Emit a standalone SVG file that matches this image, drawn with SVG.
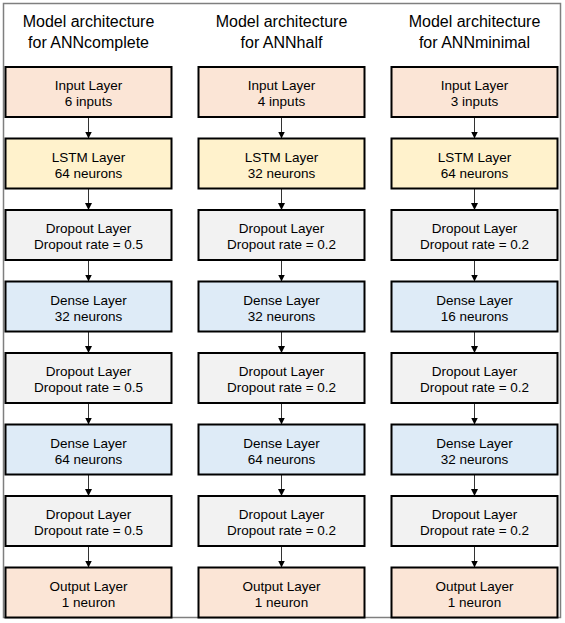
<svg xmlns="http://www.w3.org/2000/svg" width="565" height="623" viewBox="0 0 565 623">
<defs>
<style>
.frame{fill:#ffffff;stroke:#7f7f7f;stroke-width:1.5}
.hd{font-family:"Liberation Sans",Arial,sans-serif;font-size:16px;fill:#000;text-anchor:middle}
.bx{stroke:#000;stroke-width:2}
.io{fill:#fbe5d6}
.lstm{fill:#fff2cc}
.drop{fill:#f2f2f2}
.dense{fill:#deebf7}
.t{font-family:"Liberation Sans",Arial,sans-serif;font-size:13.5px;fill:#000;text-anchor:middle}
.ar{stroke:#333;stroke-width:1;fill:none;marker-end:url(#ah)}
</style>
<marker id="ah" viewBox="0 0 8 8" refX="8" refY="4" markerWidth="7" markerHeight="7" markerUnits="userSpaceOnUse" orient="auto">
<path d="M0,0 L8,4 L0,8 Z" fill="#000"/>
</marker>
</defs>
<rect class="frame" x="3.5" y="3.5" width="557" height="614"/>
<g id="headers">
<text class="hd" x="88.5" y="27">Model architecture</text>
<text class="hd" x="88.5" y="48">for ANNcomplete</text>
<text class="hd" x="281.5" y="27">Model architecture</text>
<text class="hd" x="281.5" y="48">for ANNhalf</text>
<text class="hd" x="474.5" y="27">Model architecture</text>
<text class="hd" x="474.5" y="48">for ANNminimal</text>
</g>
<g id="connectors">
<line class="ar" x1="88.5" y1="117" x2="88.5" y2="138.5"/>
<line class="ar" x1="88.5" y1="188.5" x2="88.5" y2="210"/>
<line class="ar" x1="88.5" y1="260" x2="88.5" y2="281.5"/>
<line class="ar" x1="88.5" y1="331.5" x2="88.5" y2="353"/>
<line class="ar" x1="88.5" y1="403" x2="88.5" y2="424.5"/>
<line class="ar" x1="88.5" y1="474.5" x2="88.5" y2="496"/>
<line class="ar" x1="88.5" y1="546" x2="88.5" y2="567.5"/>
<line class="ar" x1="281.5" y1="117" x2="281.5" y2="138.5"/>
<line class="ar" x1="281.5" y1="188.5" x2="281.5" y2="210"/>
<line class="ar" x1="281.5" y1="260" x2="281.5" y2="281.5"/>
<line class="ar" x1="281.5" y1="331.5" x2="281.5" y2="353"/>
<line class="ar" x1="281.5" y1="403" x2="281.5" y2="424.5"/>
<line class="ar" x1="281.5" y1="474.5" x2="281.5" y2="496"/>
<line class="ar" x1="281.5" y1="546" x2="281.5" y2="567.5"/>
<line class="ar" x1="474.5" y1="117" x2="474.5" y2="138.5"/>
<line class="ar" x1="474.5" y1="188.5" x2="474.5" y2="210"/>
<line class="ar" x1="474.5" y1="260" x2="474.5" y2="281.5"/>
<line class="ar" x1="474.5" y1="331.5" x2="474.5" y2="353"/>
<line class="ar" x1="474.5" y1="403" x2="474.5" y2="424.5"/>
<line class="ar" x1="474.5" y1="474.5" x2="474.5" y2="496"/>
<line class="ar" x1="474.5" y1="546" x2="474.5" y2="567.5"/>
</g>
<!-- Column 1 -->
<g id="c1-input"><rect class="bx io" x="5.5" y="67" width="166" height="50"/><text class="t" x="88.5" y="90">Input Layer</text><text class="t" x="88.5" y="106">6 inputs</text></g>
<g id="c1-lstm"><rect class="bx lstm" x="5.5" y="138.5" width="166" height="50"/><text class="t" x="88.5" y="161.5">LSTM Layer</text><text class="t" x="88.5" y="177.5">64 neurons</text></g>
<g id="c1-drop1"><rect class="bx drop" x="5.5" y="210" width="166" height="50"/><text class="t" x="88.5" y="233">Dropout Layer</text><text class="t" x="88.5" y="249">Dropout rate = 0.5</text></g>
<g id="c1-dense1"><rect class="bx dense" x="5.5" y="281.5" width="166" height="50"/><text class="t" x="88.5" y="304.5">Dense Layer</text><text class="t" x="88.5" y="320.5">32 neurons</text></g>
<g id="c1-drop2"><rect class="bx drop" x="5.5" y="353" width="166" height="50"/><text class="t" x="88.5" y="376">Dropout Layer</text><text class="t" x="88.5" y="392">Dropout rate = 0.5</text></g>
<g id="c1-dense2"><rect class="bx dense" x="5.5" y="424.5" width="166" height="50"/><text class="t" x="88.5" y="447.5">Dense Layer</text><text class="t" x="88.5" y="463.5">64 neurons</text></g>
<g id="c1-drop3"><rect class="bx drop" x="5.5" y="496" width="166" height="50"/><text class="t" x="88.5" y="519">Dropout Layer</text><text class="t" x="88.5" y="535">Dropout rate = 0.5</text></g>
<g id="c1-output"><rect class="bx io" x="5.5" y="567.5" width="166" height="50"/><text class="t" x="88.5" y="590.5">Output Layer</text><text class="t" x="88.5" y="606.5">1 neuron</text></g>
<!-- Column 2 -->
<g id="c2-input"><rect class="bx io" x="198.5" y="67" width="166" height="50"/><text class="t" x="281.5" y="90">Input Layer</text><text class="t" x="281.5" y="106">4 inputs</text></g>
<g id="c2-lstm"><rect class="bx lstm" x="198.5" y="138.5" width="166" height="50"/><text class="t" x="281.5" y="161.5">LSTM Layer</text><text class="t" x="281.5" y="177.5">32 neurons</text></g>
<g id="c2-drop1"><rect class="bx drop" x="198.5" y="210" width="166" height="50"/><text class="t" x="281.5" y="233">Dropout Layer</text><text class="t" x="281.5" y="249">Dropout rate = 0.2</text></g>
<g id="c2-dense1"><rect class="bx dense" x="198.5" y="281.5" width="166" height="50"/><text class="t" x="281.5" y="304.5">Dense Layer</text><text class="t" x="281.5" y="320.5">32 neurons</text></g>
<g id="c2-drop2"><rect class="bx drop" x="198.5" y="353" width="166" height="50"/><text class="t" x="281.5" y="376">Dropout Layer</text><text class="t" x="281.5" y="392">Dropout rate = 0.2</text></g>
<g id="c2-dense2"><rect class="bx dense" x="198.5" y="424.5" width="166" height="50"/><text class="t" x="281.5" y="447.5">Dense Layer</text><text class="t" x="281.5" y="463.5">64 neurons</text></g>
<g id="c2-drop3"><rect class="bx drop" x="198.5" y="496" width="166" height="50"/><text class="t" x="281.5" y="519">Dropout Layer</text><text class="t" x="281.5" y="535">Dropout rate = 0.2</text></g>
<g id="c2-output"><rect class="bx io" x="198.5" y="567.5" width="166" height="50"/><text class="t" x="281.5" y="590.5">Output Layer</text><text class="t" x="281.5" y="606.5">1 neuron</text></g>
<!-- Column 3 -->
<g id="c3-input"><rect class="bx io" x="391.5" y="67" width="166" height="50"/><text class="t" x="474.5" y="90">Input Layer</text><text class="t" x="474.5" y="106">3 inputs</text></g>
<g id="c3-lstm"><rect class="bx lstm" x="391.5" y="138.5" width="166" height="50"/><text class="t" x="474.5" y="161.5">LSTM Layer</text><text class="t" x="474.5" y="177.5">64 neurons</text></g>
<g id="c3-drop1"><rect class="bx drop" x="391.5" y="210" width="166" height="50"/><text class="t" x="474.5" y="233">Dropout Layer</text><text class="t" x="474.5" y="249">Dropout rate = 0.2</text></g>
<g id="c3-dense1"><rect class="bx dense" x="391.5" y="281.5" width="166" height="50"/><text class="t" x="474.5" y="304.5">Dense Layer</text><text class="t" x="474.5" y="320.5">16 neurons</text></g>
<g id="c3-drop2"><rect class="bx drop" x="391.5" y="353" width="166" height="50"/><text class="t" x="474.5" y="376">Dropout Layer</text><text class="t" x="474.5" y="392">Dropout rate = 0.2</text></g>
<g id="c3-dense2"><rect class="bx dense" x="391.5" y="424.5" width="166" height="50"/><text class="t" x="474.5" y="447.5">Dense Layer</text><text class="t" x="474.5" y="463.5">32 neurons</text></g>
<g id="c3-drop3"><rect class="bx drop" x="391.5" y="496" width="166" height="50"/><text class="t" x="474.5" y="519">Dropout Layer</text><text class="t" x="474.5" y="535">Dropout rate = 0.2</text></g>
<g id="c3-output"><rect class="bx io" x="391.5" y="567.5" width="166" height="50"/><text class="t" x="474.5" y="590.5">Output Layer</text><text class="t" x="474.5" y="606.5">1 neuron</text></g>
</svg>
